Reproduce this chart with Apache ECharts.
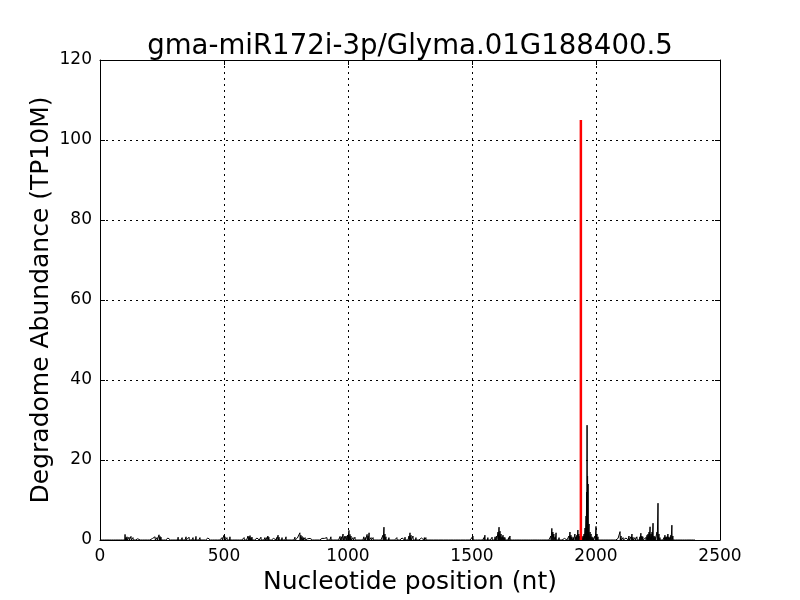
<!DOCTYPE html>
<html>
<head>
<meta charset="utf-8">
<script src="https://cdn.jsdelivr.net/npm/echarts@6/dist/echarts.min.js"></script>
<style>
  html, body { margin: 0; padding: 0; background: #fff; }
  #chart { width: 800px; height: 600px; }
</style>
</head>
<body>
<div id="chart"></div>
<script>
// degradome reads [nucleotide position, TP10M], only the non-zero positions
var readings = [
  [101, 1.4], [105, 0.6], [109, 0.8], [113, 0.5], [117, 0.7], [121, 0.4], [125, 0.9], [129, 0.5], [133, 0.6], [139, 0.3],
  [145, 0.5], [152, 0.3], [165, 0.4], [185, 0.3], [202, 0.5], [212, 0.4], [222, 0.8], [230, 0.6], [238, 1.3], [242, 0.9],
  [246, 0.7], [252, 0.4], [274, 0.5], [290, 0.3], [302, 0.5], [309, 0.4], [315, 0.7], [323, 0.4], [331, 0.6], [339, 0.5],
  [347, 0.8], [352, 0.4], [359, 0.7], [367, 0.4], [375, 0.6], [381, 0.5], [387, 0.9], [395, 0.4], [403, 0.6], [411, 0.3],
  [419, 0.5], [435, 0.5], [450, 0.3], [464, 0.4], [484, 0.5], [492, 0.6], [500, 1.2], [504, 0.8], [512, 0.6], [518, 0.4],
  [524, 0.8], [530, 0.5], [540, 0.5], [556, 0.4], [568, 0.3], [581, 0.6], [590, 0.5], [597, 1.0], [601, 0.8], [605, 1.1],
  [609, 0.6], [613, 0.7], [620, 0.4], [633, 0.5], [641, 0.4], [649, 0.7], [657, 0.4], [665, 0.6], [672, 0.6], [677, 1.0],
  [681, 0.7], [694, 0.5], [700, 0.4], [706, 0.7], [712, 0.6], [718, 1.2], [722, 0.7], [734, 0.6], [742, 0.5], [750, 0.8],
  [758, 0.4], [766, 0.5], [778, 0.4], [786, 0.7], [796, 0.5], [806, 1.8], [810, 1.2], [815, 0.9], [820, 0.6], [827, 0.6],
  [837, 0.3], [847, 0.4], [879, 0.5], [887, 0.3], [895, 0.4], [905, 0.4], [915, 0.6], [923, 0.4], [931, 0.8], [940, 0.5],
  [948, 0.5], [958, 0.4], [968, 0.9], [974, 0.8], [980, 1.5], [986, 0.9], [992, 1.0], [998, 1.2], [1004, 2.4], [1008, 1.4],
  [1012, 1.0], [1020, 0.6], [1028, 0.7], [1036, 0.4], [1048, 0.5], [1056, 0.4], [1064, 0.8], [1070, 0.6], [1077, 1.4], [1081, 1.0],
  [1085, 1.8], [1093, 0.6], [1101, 0.6], [1109, 0.4], [1117, 0.5], [1129, 0.4], [1137, 0.4], [1141, 1.2], [1145, 3.2], [1149, 1.5],
  [1153, 0.8], [1165, 0.6], [1173, 0.4], [1181, 0.5], [1189, 0.4], [1197, 0.6], [1205, 0.4], [1218, 0.5], [1224, 0.4], [1230, 0.7],
  [1238, 0.5], [1246, 1.0], [1250, 1.8], [1254, 1.2], [1262, 1.0], [1268, 0.5], [1274, 0.6], [1282, 0.4], [1290, 0.5], [1296, 0.5],
  [1302, 1.0], [1308, 0.6], [1314, 0.6], [1322, 0.4], [1331, 0.5], [1341, 0.3], [1351, 0.4], [1361, 0.3], [1371, 0.4], [1381, 0.3],
  [1391, 0.5], [1401, 0.3], [1411, 0.4], [1421, 0.3], [1431, 0.4], [1460, 0.3], [1480, 0.3], [1500, 0.5], [1504, 1.0], [1524, 0.3],
  [1548, 0.6], [1552, 1.2], [1558, 0.5], [1564, 0.6], [1573, 0.4], [1581, 0.7], [1587, 0.5], [1593, 0.8], [1599, 1.0], [1605, 2.0],
  [1609, 3.2], [1613, 2.2], [1617, 1.5], [1621, 0.8], [1625, 1.2], [1629, 0.7], [1633, 0.6], [1641, 0.4], [1648, 0.6], [1653, 1.0],
  [1665, 0.5], [1702, 0.3], [1806, 0.3], [1818, 1.0], [1822, 2.9], [1826, 2.0], [1830, 1.5], [1835, 0.8], [1839, 1.8], [1845, 0.5],
  [1851, 0.6], [1859, 0.3], [1867, 0.5], [1873, 0.4], [1879, 0.6], [1887, 0.5], [1891, 1.0], [1895, 2.0], [1899, 1.2], [1903, 0.8],
  [1909, 0.6], [1915, 1.5], [1919, 0.8], [1923, 1.2], [1927, 2.5], [1931, 1.5], [1935, 1.0], [1944, 0.6], [1948, 1.0], [1952, 1.5],
  [1956, 3.0], [1960, 6.0], [1962, 12], [1964, 28.7], [1966, 16], [1968, 14], [1972, 4.0], [1976, 2.0], [1980, 1.5], [1984, 0.8],
  [1988, 0.6], [1996, 1.0], [2000, 3.4], [2004, 1.5], [2008, 0.8], [2016, 0.5], [2036, 0.3], [2056, 0.3], [2076, 0.5], [2089, 0.4],
  [2093, 0.6], [2097, 2.1], [2101, 1.0], [2109, 0.6], [2117, 0.3], [2121, 0.5], [2129, 0.6], [2133, 1.0], [2141, 0.8], [2145, 1.5],
  [2149, 0.7], [2157, 0.6], [2165, 0.8], [2177, 0.8], [2181, 1.7], [2185, 1.0], [2189, 0.8], [2197, 0.5], [2201, 0.6], [2206, 1.2],
  [2210, 1.5], [2214, 2.0], [2218, 3.3], [2222, 1.5], [2226, 2.0], [2230, 4.2], [2234, 1.0], [2238, 0.8], [2242, 0.5], [2246, 2.0],
  [2250, 9.2], [2254, 1.5], [2258, 0.6], [2266, 0.5], [2274, 0.6], [2278, 1.2], [2282, 0.8], [2286, 0.8], [2290, 1.5], [2294, 0.8],
  [2298, 0.6], [2302, 1.2], [2306, 3.7], [2310, 1.0], [2314, 0.4], [2335, 0.5], [2347, 0.5]
];
var transcriptLength = 2400;

// cleavage site of the miRNA (red line)
var sitePosition = 1939;
var siteAbundance = 105;

var xTicks = [0, 500, 1000, 1500, 2000, 2500];
var yTicks = [0, 20, 40, 60, 80, 100, 120];

// full per-nucleotide profile: zero where no reads
var lookup = {};
readings.forEach(function (r) { lookup[r[0]] = r[1]; });
var profile = [];
for (var p = 1; p <= transcriptLength; p++) {
  profile.push([p, lookup[p] !== undefined ? lookup[p] : 0]);
}

var font = 'DejaVu Sans';
var black = '#000';

function mainAxis(ticks, name, gap, pos) {
  return {
    type: 'value',
    position: pos,
    min: ticks[0],
    max: ticks[ticks.length - 1],
    interval: ticks[1] - ticks[0],
    name: name,
    nameLocation: 'middle',
    nameGap: gap,
    nameMoveOverlap: false,
    nameTextStyle: { fontFamily: font, fontSize: 25, color: black },
    axisLine: { show: true, onZero: false, lineStyle: { color: black, width: 1 } },
    axisTick: { show: true, inside: true, length: 5, lineStyle: { color: black } },
    axisLabel: {
      fontFamily: font, fontSize: 17, color: black, margin: 8,
      formatter: function (v) { return String(v); }
    },
    splitLine: { show: true, lineStyle: { color: black, width: 1, type: [2, 4] } }
  };
}

function mirrorAxis(ticks, pos) {
  return {
    type: 'value',
    position: pos,
    min: ticks[0],
    max: ticks[ticks.length - 1],
    interval: ticks[1] - ticks[0],
    axisLine: { show: true, onZero: false, lineStyle: { color: black, width: 1 } },
    axisTick: { show: true, inside: true, length: 5, lineStyle: { color: black } },
    axisLabel: { show: false },
    splitLine: { show: false }
  };
}

var myChart = echarts.init(document.getElementById('chart'));
var option = {
  animation: false,
  backgroundColor: '#fff',
  title: {
    text: 'gma-miR172i-3p/Glyma.01G188400.5',
    left: 405,
    textAlign: 'center',
    top: 28,
    textStyle: { fontFamily: font, fontSize: 27.6, fontWeight: 'normal', color: black }
  },
  grid: { left: 100, right: 80, top: 60, bottom: 60 },
  xAxis: [
    mainAxis(xTicks, 'Nucleotide position (nt)', 30, 'bottom'),
    mirrorAxis(xTicks, 'top')
  ],
  yAxis: [
    mainAxis(yTicks, 'Degradome Abundance (TP10M)', 46, 'left'),
    mirrorAxis(yTicks, 'right')
  ],
  series: [
    {
      type: 'line',
      xAxisIndex: 0,
      yAxisIndex: 0,
      data: profile,
      showSymbol: false,
      sampling: null,
      lineStyle: { color: black, width: 1 },
      z: 2
    },
    {
      type: 'line',
      xAxisIndex: 0,
      yAxisIndex: 0,
      data: [[sitePosition, 0], [sitePosition, siteAbundance]],
      showSymbol: false,
      lineStyle: { color: '#ff0000', width: 2.5 },
      z: 3
    }
  ]
};
myChart.setOption(option);
</script>
</body>
</html>
